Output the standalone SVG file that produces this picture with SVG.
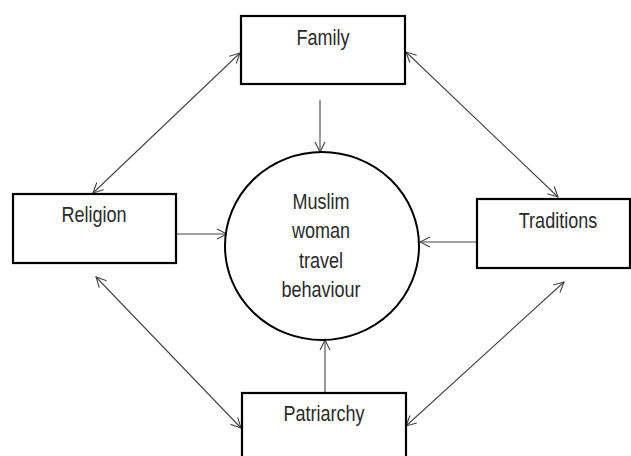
<svg xmlns="http://www.w3.org/2000/svg" width="631" height="456" viewBox="0 0 631 456">
<style>
.box{fill:#fff;stroke:#000;stroke-width:2.2}
.hub{fill:#fff;stroke:#000;stroke-width:2}
.lbl{font-family:"Liberation Sans",Arial,sans-serif;font-size:22px;fill:#2a2a2a;text-anchor:middle}
.con{stroke:#444;stroke-width:1.1;fill:none}
</style>
<defs>
<marker id="ah" viewBox="0 0 12 12" refX="11" refY="6" markerWidth="12" markerHeight="12" markerUnits="userSpaceOnUse" orient="auto-start-reverse">
<path d="M1,1 L11,6 L1,11" fill="none" stroke="#444" stroke-width="1.1"/>
</marker>
</defs>
<rect width="631" height="456" fill="#fff"/>
<g id="connectors">
<line class="con" x1="240" y1="53" x2="93" y2="193" marker-start="url(#ah)" marker-end="url(#ah)"/>
<line class="con" x1="406" y1="52" x2="558" y2="197" marker-start="url(#ah)" marker-end="url(#ah)"/>
<line class="con" x1="96" y1="277" x2="241" y2="428" marker-start="url(#ah)" marker-end="url(#ah)"/>
<line class="con" x1="564" y1="282" x2="406" y2="426" marker-start="url(#ah)" marker-end="url(#ah)"/>
<line class="con" x1="320" y1="100" x2="320" y2="152" marker-end="url(#ah)"/>
<line class="con" x1="176" y1="234" x2="227" y2="234" marker-end="url(#ah)"/>
<line class="con" x1="477" y1="242" x2="420" y2="242" marker-end="url(#ah)"/>
<line class="con" x1="325" y1="393" x2="325" y2="340" marker-end="url(#ah)"/>
</g>
<g id="hub">
<ellipse class="hub" cx="322" cy="246" rx="97" ry="94"/>
<text class="lbl" transform="translate(321,209) scale(0.82,1)">Muslim</text>
<text class="lbl" transform="translate(321,238) scale(0.82,1)">woman</text>
<text class="lbl" transform="translate(321,268) scale(0.82,1)">travel</text>
<text class="lbl" transform="translate(321,297) scale(0.82,1)">behaviour</text>
</g>
<g id="family">
<rect class="box" x="241" y="16" width="164" height="68"/>
<text class="lbl" transform="translate(323,45) scale(0.82,1)">Family</text>
</g>
<g id="religion">
<rect class="box" x="13" y="194" width="163" height="69"/>
<text class="lbl" transform="translate(94,222) scale(0.82,1)">Religion</text>
</g>
<g id="traditions">
<rect class="box" x="477" y="199" width="153" height="69"/>
<text class="lbl" transform="translate(558,228) scale(0.82,1)">Traditions</text>
</g>
<g id="patriarchy">
<rect class="box" x="242" y="393" width="164" height="69"/>
<text class="lbl" transform="translate(324,421) scale(0.82,1)">Patriarchy</text>
</g>
</svg>
